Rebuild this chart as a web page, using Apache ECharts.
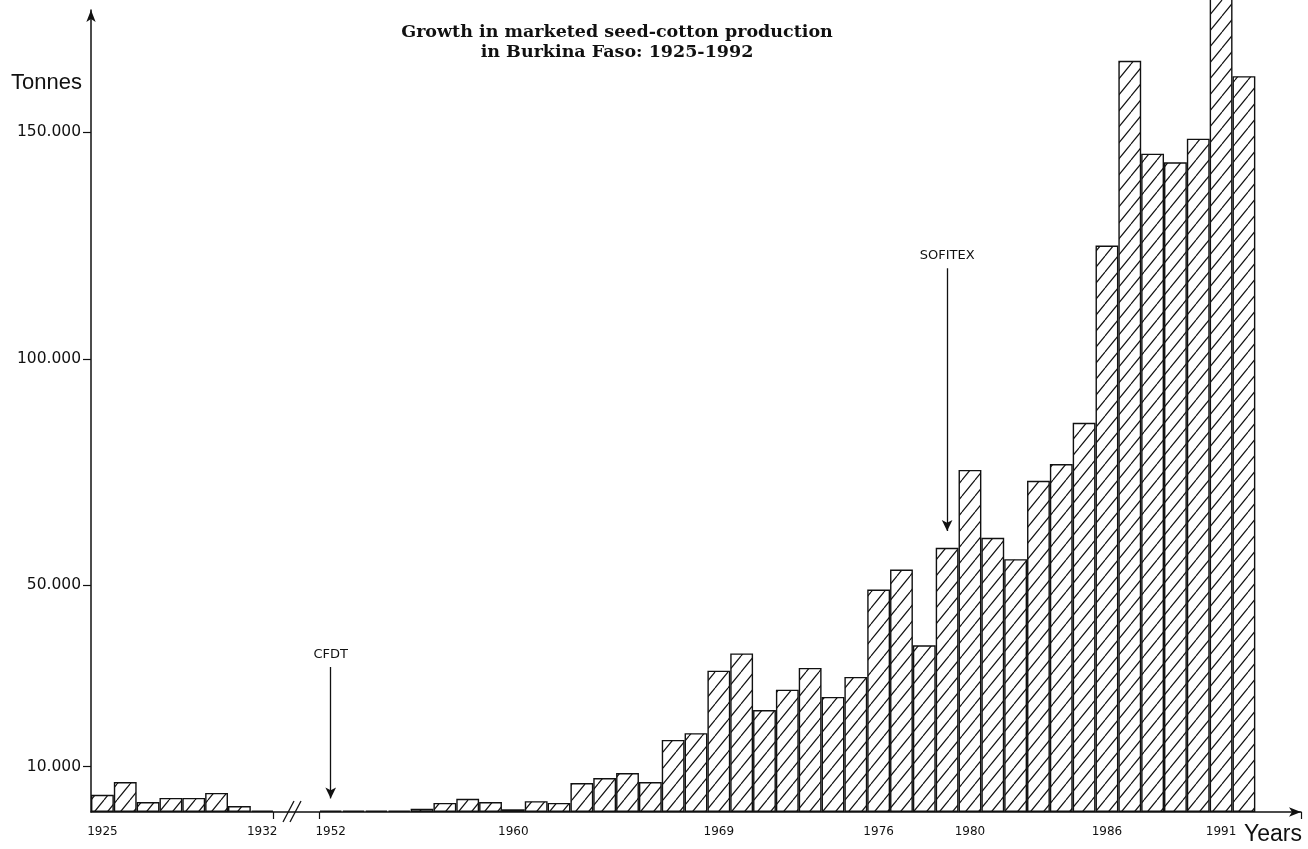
<!DOCTYPE html>
<html>
<head>
<meta charset="utf-8">
<title>Burkina Faso seed-cotton production</title>
<script src="https://cdn.jsdelivr.net/npm/echarts@6/dist/echarts.min.js"></script>
<style>
html, body { margin: 0; padding: 0; background: #fff; }
#main { width: 1308px; height: 849px; }
</style>
</head>
<body>
<div id="main"></div>
<script>
// years before the axis break
var earlyYears = ['1925', '1926', '1927', '1928', '1929', '1930', '1931', '1932'];
var earlyValues = [3800, 6600, 2200, 3100, 3100, 4200, 1300, 300];

// years after the break
var laterYears = ['1952', '1953', '1954', '1955', '1956', '1957', '1958', '1959', '1960',
	'1961', '1962', '1963', '1964', '1965', '1966', '1967', '1968', '1969', '1970',
	'1971', '1972', '1973', '1974', '1975', '1976', '1977', '1978', '1979', '1980',
	'1981', '1982', '1983', '1984', '1985', '1986', '1987', '1988', '1989', '1990',
	'1991', '1992'];
var laterValues = [300, 300, 300, 300, 700, 2000, 2900, 2200, 600,
	2400, 2000, 6400, 7500, 8600, 6600, 15900, 17400, 31200, 35000,
	22500, 27000, 31800, 25400, 29800, 49100, 53500, 36800, 58300, 75500,
	60500, 55800, 73100, 76800, 85900, 125000, 165800, 145300, 143400, 148600,
	181000, 162400];

var labelYears = ['1925', '1932', '1952', '1960', '1969', '1976', '1980', '1986', '1991'];
var yTicks = [10000, 50000, 100000, 150000];
var yTickLabels = ['10.000', '50.000', '100.000', '150.000'];

// annotations: [year, arrow start, arrow end, text]
var notes = [
	['1952', 32000, 3000, 'CFDT'],
	['1979', 120000, 62000, 'SOFITEX']
];

var ink = '#111';

function hatch() {
	var w = 13, h = 16;
	var c = document.createElement('canvas');
	c.width = w;
	c.height = h;
	var ctx = c.getContext('2d');
	ctx.fillStyle = '#fff';
	ctx.fillRect(0, 0, w, h);
	ctx.strokeStyle = ink;
	ctx.lineWidth = 1.2;
	for (var n = 0; n <= 2; n++) {
		ctx.beginPath();
		ctx.moveTo((n - 1) * w, h);
		ctx.lineTo(n * w, 0);
		ctx.stroke();
	}
	return c;
}

var categories = earlyYears.concat(['gap1', 'gap2'], laterYears, ['end1', 'end2']);
var values = earlyValues.concat(['-', '-'], laterValues, ['-', '-']);

var markData = [];
notes.forEach(function(n) {
	markData.push([
		{ name: n[3], coord: [n[0], n[1]] },
		{ coord: [n[0], n[2]] }
	]);
});

var chart = echarts.init(document.getElementById('main'));
chart.setOption({
	animation: false,
	backgroundColor: '#fff',
	grid: { left: 91, right: 7, top: 10, bottom: 37 },
	xAxis: {
		type: 'category',
		data: categories,
		boundaryGap: true,
		axisLine: {
			lineStyle: { color: ink, width: 1.5 },
			symbol: ['none', 'arrow'],
			symbolSize: [7, 12]
		},
		axisTick: {
			show: true,
			interval: function(i) { return i === 8 || i === 10; },
			length: 7,
			lineStyle: { color: ink, width: 1.2 }
		},
		axisLabel: {
			interval: 0,
			margin: 14,
			color: ink,
			fontSize: 12,
			fontFamily: 'DejaVu Sans',
			formatter: function(v) { return labelYears.indexOf(v) >= 0 ? v : ''; }
		},
		splitLine: { show: false }
	},
	yAxis: {
		type: 'value',
		min: 0,
		max: 177000,
		axisLine: {
			show: true,
			lineStyle: { color: ink, width: 1.5 },
			symbol: ['none', 'arrow'],
			symbolSize: [7, 12]
		},
		axisTick: {
			show: true,
			customValues: yTicks,
			length: 8,
			lineStyle: { color: ink, width: 1.2 }
		},
		axisLabel: {
			customValues: yTicks,
			margin: 10,
			color: ink,
			fontSize: 15.5,
			fontFamily: 'DejaVu Sans',
			formatter: function(v) { return yTickLabels[yTicks.indexOf(v)]; }
		},
		splitLine: { show: false }
	},
	series: [{
		type: 'bar',
		data: values,
		barCategoryGap: '0%',
		clip: false,
		itemStyle: {
			color: { image: hatch(), repeat: 'repeat' },
			borderColor: ink,
			borderWidth: 1.4
		},
		markLine: {
			silent: true,
			symbol: ['none', 'arrow'],
			symbolSize: [8, 11],
			lineStyle: { color: ink, width: 1.3, type: 'solid' },
			label: {
				position: 'start',
				formatter: '{b}',
				distance: 6,
				color: ink,
				fontSize: 13,
				fontFamily: 'DejaVu Sans'
			},
			data: markData
		}
	}],
	graphic: [
		{
			type: 'text', x: 617, y: 22,
			style: {
				text: 'Growth in marketed seed-cotton production\nin Burkina Faso: 1925-1992',
				align: 'center', verticalAlign: 'top',
				fill: ink, font: 'bold 17.5px "DejaVu Serif"', lineHeight: 20
			}
		},
		{
			type: 'text', x: 11, y: 72,
			style: { text: 'Tonnes', fill: ink, font: '22px "Liberation Sans"' }
		},
		{
			type: 'text', x: 1244, y: 823,
			style: { text: 'Years', fill: ink, font: '23px "Liberation Sans"' }
		},
		{
			type: 'line',
			shape: { x1: 283, y1: 822, x2: 294, y2: 801 },
			style: { stroke: ink, lineWidth: 1.3 }
		},
		{
			type: 'line',
			shape: { x1: 290, y1: 822, x2: 301, y2: 801 },
			style: { stroke: ink, lineWidth: 1.3 }
		}
	]
});
</script>
</body>
</html>
